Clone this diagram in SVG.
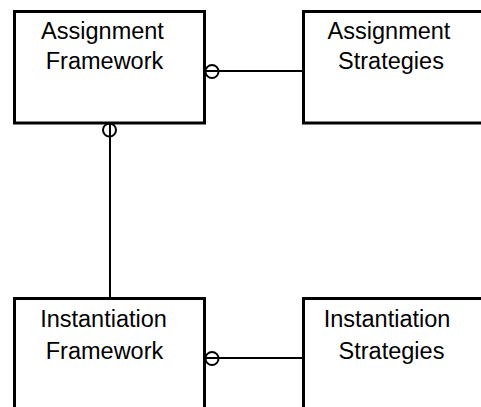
<svg xmlns="http://www.w3.org/2000/svg" width="481" height="407" viewBox="0 0 481 407">
  <defs>
    <style>
      .box { fill: #ffffff; stroke: #000000; stroke-width: 3; }
      .link { fill: none; stroke: #000000; stroke-width: 2; }
      .ring { fill: none; stroke: #000000; stroke-width: 2; }
      .label { font-family: "Liberation Sans", Arial, sans-serif; font-size: 23.5px; fill: #000000; text-anchor: middle; }
    </style>
  </defs>
  <rect width="481" height="407" fill="#ffffff"/>

  <!-- connectors: plain lines with an optional-end ring at the framework side -->
  <g id="connectors">
    <line class="link" x1="205" y1="71" x2="303" y2="71"/>
    <circle class="ring" cx="212" cy="71.5" r="6.5"/>
    <line class="link" x1="110" y1="123" x2="110" y2="298"/>
    <circle class="ring" cx="109.5" cy="130" r="6.5"/>
    <line class="link" x1="205" y1="358" x2="303" y2="358"/>
    <circle class="ring" cx="212" cy="358.5" r="6.5"/>
  </g>

  <g id="assignment-framework">
    <rect class="box" x="14.5" y="11.5" width="190" height="111.5"/>
    <text class="label" x="102.5" y="39">Assignment</text>
    <text class="label" x="104.5" y="69">Framework</text>
  </g>

  <g id="assignment-strategies">
    <rect class="box" x="303.5" y="11.5" width="200" height="111.5"/>
    <text class="label" x="389" y="39">Assignment</text>
    <text class="label" x="391" y="69">Strategies</text>
  </g>

  <g id="instantiation-framework">
    <rect class="box" x="14.5" y="298.5" width="190" height="130"/>
    <text class="label" x="103.5" y="327">Instantiation</text>
    <text class="label" x="104.5" y="358.5">Framework</text>
  </g>

  <g id="instantiation-strategies">
    <rect class="box" x="303.5" y="298.5" width="200" height="130"/>
    <text class="label" x="387" y="327">Instantiation</text>
    <text class="label" x="391.5" y="358.5">Strategies</text>
  </g>
</svg>
